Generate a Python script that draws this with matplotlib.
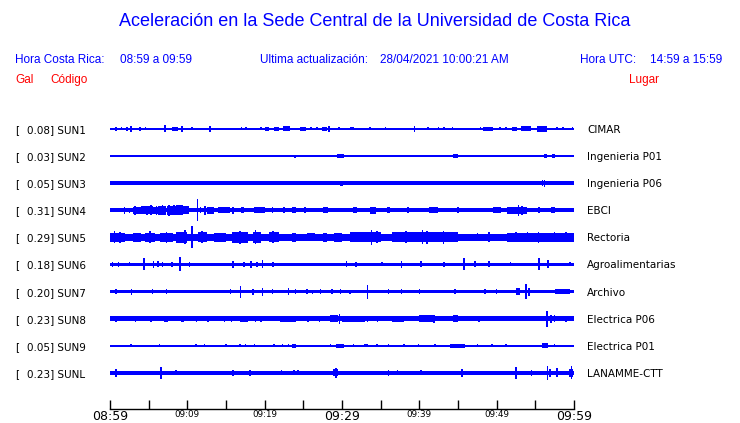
import matplotlib
matplotlib.use('Agg')
import matplotlib.pyplot as plt

W, H = 740, 423
azul = (0, 0, 1)
rojo = (1, 0, 0)

estaciones = ['SUN1', 'SUN2', 'SUN3', 'SUN4', 'SUN5', 'SUN6', 'SUN7', 'SUN8', 'SUN9', 'SUNL']
picos = ['0.08', '0.03', '0.05', '0.31', '0.29', '0.18', '0.20', '0.23', '0.05', '0.23']
lugares = ['CIMAR', 'Ingenieria P01', 'Ingenieria P06', 'EBCI', 'Rectoria',
           'Agroalimentarias', 'Archivo', 'Electrica P06', 'Electrica P01', 'LANAMME-CTT']

# amplitud de fondo de cada traza
base_amp = [0.8, 0.6, 2.0, 2.2, 3.3, 1.7, 1.7, 2.2, 0.6, 2.0]

# eventos: (minuto inicio, minuto fin, amplitud)
ev_sun1 = [(0.8, 0.8, 2), (1.5, 1.5, 1.5), (2.2, 2.2, 2), (2.7, 2.7, 3), (3.9, 3.9, 2), (4.6, 4.6, 1.5),
           (7.0, 7.2, 3.5), (8.0, 8.8, 2), (9.3, 9.3, 3), (10.6, 10.6, 1.5), (12.9, 12.9, 3), (17.0, 17.0, 1.5),
           (17.6, 17.6, 1.5), (19.5, 19.5, 1.5), (20.0, 20.6, 2), (21.2, 21.9, 2), (22.4, 23.3, 2.5),
           (24.6, 25.4, 2), (26.0, 26.0, 1.5), (26.8, 26.8, 1.5), (27.4, 28.0, 2), (28.3, 28.3, 3),
           (29.6, 29.6, 1.5), (31.0, 31.6, 1.5), (33.6, 33.6, 1.5), (35.6, 35.6, 1.5), (39.3, 39.5, 3),
           (41.1, 41.1, 1.5), (42.5, 42.5, 1.5), (43.2, 43.2, 1.5), (44.2, 44.4, 1.5), (47.9, 47.9, 1.5),
           (48.2, 49.5, 2), (50.4, 50.4, 1.5), (51.2, 51.2, 1.5), (52.0, 52.6, 2), (53.2, 54.5, 2.5),
           (55.2, 56.5, 3), (57.8, 57.8, 1.5), (58.6, 58.6, 1.5), (59.8, 59.8, 1.5)]
ev_sun2 = [(6.9, 6.9, 1.2), (23.9, 23.9, 1.5), (29.3, 30.2, 2), (41.3, 41.3, 1.2), (44.4, 45.0, 2),
           (56.1, 56.5, 2), (57.2, 57.5, 2)]
ev_sun3 = [(29.8, 30.1, 2.5), (55.9, 55.9, 3), (56.1, 56.3, 3.5)]
ev_sun4 = [(1.9, 1.9, 3.5), (2.5, 2.5, 2.5), (3.0, 4.0, 3.5), (4.0, 5.5, 4.0), (5.5, 6.2, 3.5),
           (6.2, 7.2, 4.5), (7.4, 8.5, 4.5), (8.5, 9.5, 5.0), (9.5, 10.2, 4), (3.2, 3.2, 4.5), (4.8, 4.8, 4.5),
           (5.3, 5.3, 4.8), (6.0, 6.0, 4.5), (6.8, 6.8, 5), (7.6, 7.6, 5.5), (8.3, 8.3, 5), (9.0, 9.0, 5.2),
           (11.3, 11.3, 11), (11.7, 11.7, 3), (12.3, 12.3, 4.5), (12.5, 13.5, 3.5), (14.0, 15.5, 3),
           (15.9, 15.9, 3.5), (17.0, 17.3, 3), (18.6, 20.0, 3.2), (21.0, 21.0, 3), (22.5, 22.5, 3),
           (23.5, 24.0, 3), (25.2, 25.2, 3), (27.5, 28.2, 3), (31.4, 32.0, 2.8), (33.6, 34.4, 3.5),
           (35.8, 36.2, 3), (38.5, 38.5, 2.8), (41.2, 42.4, 2.8), (45.0, 45.0, 2.8), (49.5, 50.5, 3.2),
           (51.3, 53.9, 3.5), (52.8, 52.8, 5.5), (53.3, 53.3, 4.5), (55.4, 55.6, 3), (57.0, 57.5, 2.8)]
ev_sun5 = [(0.0, 2.0, 4.5), (0.6, 0.6, 6), (1.3, 1.3, 5.5), (3.0, 4.0, 4.2), (4.5, 5.8, 4.8), (5.2, 5.2, 6),
           (6.5, 8.2, 4.8), (7.3, 7.3, 5.5), (8.5, 10.0, 5.2), (9.7, 9.7, 7), (10.6, 10.6, 11),
           (11.4, 12.5, 5), (11.9, 11.9, 6), (13.5, 15.0, 4.2), (15.8, 17.8, 5.2), (16.8, 16.8, 6.5),
           (18.5, 19.5, 5.5), (18.8, 18.8, 7), (20.5, 21.8, 5), (21.1, 21.1, 6), (23.5, 24.0, 4.2),
           (25.5, 26.5, 4), (27.5, 28.0, 4.2), (29.0, 30.0, 4.5), (31.0, 35.0, 5), (33.8, 33.8, 7.5),
           (34.5, 34.5, 6), (36.5, 45.0, 5), (38.3, 38.3, 6), (40.4, 40.4, 7), (41.0, 41.0, 6.5),
           (43.1, 43.1, 6.5), (44.8, 44.8, 4.5), (47.5, 47.5, 4), (49.0, 49.0, 5), (51.3, 60.0, 4.2),
           (52.5, 52.5, 5), (54.0, 54.0, 5), (55.4, 55.4, 5.5), (57.5, 57.5, 5), (59.0, 59.0, 5)]
ev_sun6 = [(0.3, 0.3, 2.5), (1.1, 1.1, 2.5), (2.5, 2.5, 2), (4.4, 4.4, 6), (5.6, 5.6, 3.5), (6.2, 6.2, 3),
           (6.8, 6.8, 2.5), (8.0, 8.0, 2.5), (9.05, 9.05, 7), (10.3, 10.3, 2.5), (15.9, 15.9, 3.5),
           (17.3, 17.3, 2.5), (18.2, 18.2, 3.5), (19.0, 19.0, 2.5), (19.7, 19.7, 4), (21.1, 21.1, 2.5),
           (30.6, 30.6, 3), (31.8, 31.8, 2.5), (35.2, 35.2, 2), (37.7, 37.7, 3.5), (40.2, 40.2, 3),
           (43.2, 43.2, 2.5), (45.8, 45.8, 6), (47.2, 47.2, 3), (49.0, 49.0, 3), (51.8, 51.8, 2),
           (55.5, 55.5, 6), (56.5, 56.8, 4), (59.5, 59.5, 2)]
ev_sun7 = [(0.8, 0.8, 2.5), (2.8, 2.8, 3), (5.5, 5.5, 2.5), (7.3, 7.3, 2.5), (15.6, 15.6, 2.5),
           (16.9, 16.9, 6), (18.5, 18.5, 3), (19.7, 19.7, 4), (21.0, 21.0, 2.5), (23.1, 23.1, 3.5),
           (24.0, 24.0, 2.5), (25.5, 25.5, 2.5), (26.2, 26.2, 2), (27.2, 27.2, 2.5), (28.7, 28.7, 2.5),
           (29.8, 29.8, 2.5), (31.0, 31.0, 2), (33.3, 33.3, 7), (36.0, 36.0, 2.5), (37.7, 37.7, 2.5),
           (40.0, 40.0, 2.5), (44.6, 44.6, 2.8), (48.5, 48.5, 2.5), (50.0, 50.0, 2.5), (52.5, 53.0, 3.5),
           (53.8, 53.8, 7.5), (54.2, 54.2, 4), (57.5, 59.5, 2.2)]
ev_sun8 = [(0.8, 0.8, 3), (3.3, 3.3, 3), (5.3, 5.3, 3), (7.0, 7.5, 3), (9.2, 9.6, 3), (11.2, 11.2, 2.8),
           (12.7, 12.7, 2.8), (14.8, 14.8, 2.8), (15.7, 15.7, 3), (16.8, 17.8, 3), (18.8, 18.8, 3),
           (19.5, 19.5, 3), (22.0, 24.0, 3), (25.6, 25.6, 3), (27.1, 27.1, 2.8), (28.5, 29.5, 3.5),
           (29.7, 29.7, 5), (30.0, 33.0, 2.8), (33.3, 33.3, 3), (34.6, 34.6, 3), (36.5, 38.0, 3),
           (40.0, 41.8, 3.2), (41.9, 41.9, 4), (44.4, 45.0, 3.5), (47.7, 47.7, 2.8), (50.0, 52.5, 2.6),
           (56.5, 56.5, 8), (57.0, 57.0, 4), (57.5, 57.5, 3.5), (59.0, 59.0, 2.8)]
ev_sun9 = [(2.7, 2.7, 1.5), (6.4, 6.4, 1.5), (11.1, 11.1, 1.5), (12.2, 12.2, 1.5), (15.0, 15.0, 1.3),
           (16.8, 16.8, 1.5), (17.5, 17.5, 1.3), (18.7, 18.7, 1.5), (21.2, 21.2, 1.3), (22.3, 22.3, 1.3),
           (23.1, 23.1, 1.3), (23.5, 24.0, 2), (28.5, 28.5, 1.3), (29.2, 30.2, 2), (31.5, 31.5, 1.3),
           (32.8, 33.3, 1.5), (34.5, 34.5, 1.5), (36.0, 36.0, 1.3), (38.0, 38.0, 1.3), (39.9, 39.9, 1.5),
           (42.0, 42.0, 1.3), (44.0, 45.9, 1.8), (47.5, 47.5, 1.3), (49.4, 49.4, 1.3), (51.2, 51.2, 1.3),
           (55.8, 56.7, 2.5), (57.5, 57.5, 1.5)]
ev_sunl = [(0.8, 0.8, 4), (6.6, 6.6, 6), (8.5, 8.5, 2.5), (15.9, 15.9, 3), (18.1, 18.1, 2.8),
           (22.2, 22.2, 2.5), (23.8, 23.8, 2.5), (24.3, 24.3, 2.5), (28.8, 29.5, 3.5), (29.2, 29.2, 5),
           (36.0, 36.0, 3), (37.2, 37.2, 2.5), (40.2, 40.2, 2.5), (45.5, 45.5, 4), (52.5, 52.5, 6),
           (54.5, 54.5, 3), (56.6, 56.6, 7), (56.9, 56.9, 4), (57.8, 57.8, 4.5), (59.3, 59.9, 4),
           (59.7, 59.7, 6.5)]
eventos = [ev_sun1, ev_sun2, ev_sun3, ev_sun4, ev_sun5, ev_sun6, ev_sun7, ev_sun8, ev_sun9, ev_sunl]

tick_min = [0, 5, 10, 15, 20, 25, 30, 35, 40, 45, 50, 55, 60]
tick_lab = ['08:59', '', '09:09', '', '09:19', '', '09:29', '', '09:39', '', '09:49', '', '09:59']
tick_grande = ['08:59', '09:29', '09:59']

fig = plt.figure(figsize=(W / 100, H / 100), dpi=100)
fig.patch.set_facecolor('white')

# filas cada 27.1 px, primera en y=129 px, eje en y=409 px
esc = 1 / 27.1
ax = fig.add_axes([110 / W, (H - 409) / H, 464 / W, (409 - 115) / H])
ax.set_xlim(0, 60)
ax.set_ylim((409 - 129) * esc, (115 - 129) * esc)

for i in range(len(estaciones)):
    b = max(base_amp[i], 0.75) * esc
    ax.fill_between([0, 60], i - b, i + b, color=azul, lw=0, antialiased=False)
    for t0, t1, a in eventos[i]:
        if t1 == t0:
            t0, t1 = t0 - 0.1, t1 + 0.1
        ax.fill_between([t0, t1], i - a * esc, i + a * esc, color=azul, lw=0, antialiased=False)

    yf = 1 - (129 + 27.1 * i + 1) / H
    fig.text(15 / W, yf, '[', fontsize=7.5, va='center', family='DejaVu Sans')
    fig.text(27 / W, yf, picos[i] + '] ' + estaciones[i], fontsize=7.5, va='center', family='DejaVu Sans')
    fig.text(587 / W, yf, lugares[i], fontsize=7.5, va='center', family='DejaVu Sans')

for s in ['top', 'left', 'right']:
    ax.spines[s].set_visible(False)
ax.spines['bottom'].set_linewidth(1)
ax.set_yticks([])
ax.set_xticks(tick_min)
ax.set_xticklabels(tick_lab)
ax.tick_params(axis='x', direction='in', length=6.5, width=1, pad=1)
for lab in ax.get_xticklabels():
    if lab.get_text() in tick_grande:
        lab.set_fontsize(9)
    else:
        lab.set_fontsize(6.3)

# encabezado
fs = 'Liberation Sans'
fig.text(375 / W, 1 - 22 / H, 'Aceleración en la Sede Central de la Universidad de Costa Rica',
         ha='center', va='center', fontsize=13, color=azul, family=fs)
fig.text(15 / W, 1 - 60 / H, 'Hora Costa Rica:', fontsize=8.5, va='center', color=azul, family=fs)
fig.text(120 / W, 1 - 60 / H, '08:59 a 09:59', fontsize=8.5, va='center', color=azul, family=fs)
fig.text(260 / W, 1 - 60 / H, 'Ultima actualización:', fontsize=8.5, va='center', color=azul, family=fs)
fig.text(380 / W, 1 - 60 / H, '28/04/2021 10:00:21 AM', fontsize=8.5, va='center', color=azul, family=fs)
fig.text(580 / W, 1 - 60 / H, 'Hora UTC:', fontsize=8.5, va='center', color=azul, family=fs)
fig.text(650 / W, 1 - 60 / H, '14:59 a 15:59', fontsize=8.5, va='center', color=azul, family=fs)
fig.text(15 / W, 1 - 80 / H, 'Gal', fontsize=8.5, va='center', color=rojo, family=fs)
fig.text(50 / W, 1 - 80 / H, 'Código', fontsize=8.5, va='center', color=rojo, family=fs)
fig.text(629 / W, 1 - 80 / H, 'Lugar', fontsize=8.5, va='center', color=rojo, family=fs)

fig.savefig('out.png', dpi=100, facecolor='white')
